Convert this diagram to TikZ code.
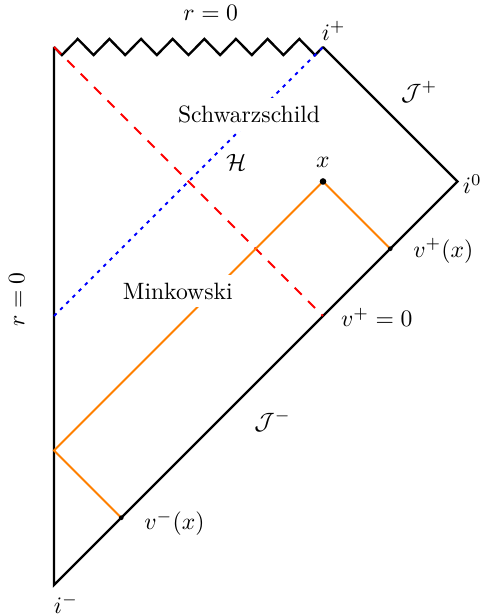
\documentclass[tikz,border=0pt]{standalone}
\usepackage{amsmath}
\usepackage{xcolor}
\usepackage{tikz}
\usetikzlibrary{positioning, calc}

\begin{document}
\begin{tikzpicture}[
    bdry/.style={line width=1pt, black},
    horizonline/.style={thick, blue, dash pattern=on 1.5pt off 2.2pt},
    shellline/.style={thick, red, dash pattern=on 4.2pt off 3.8pt},
    lightray/.style={thick, orange},
    patchlabel/.style={fill=white}
  ]
  \useasboundingbox (-0.803,-0.461) rectangle (6.379,8.699);

  % Corners of the diagram
  \coordinate (iminus) at (0,0);
  \coordinate (rtop) at (0,8);
  \coordinate (iplus) at (4,8);
  \coordinate (izero) at (6,6);
  \coordinate (rmid) at (0,4);
  \coordinate (vzero) at (4,4);
  \coordinate (xpt) at (4,6);
  \coordinate (vpx) at (5,5);
  \coordinate (refl) at (0,2);
  \coordinate (vmx) at (1,1);

  % Boundary
  \draw[bdry] (iplus) -- (izero) -- (iminus) -- (rtop);
  \draw[bdry] (rtop) \foreach \k in {0,...,16} {
      -- ({(\k+0.5)*4/17}, {8+0.12*(2*mod(\k,2)-1)})
    } -- (iplus);

  % Horizon and shell
  \draw[horizonline] (rmid) -- (iplus);
  \draw[shellline] (rtop) -- (vzero);

  % Light rays through x
  \draw[lightray] (vpx) -- (xpt) -- (refl) -- (vmx);
  \fill (xpt) circle (1.4pt);
  \fill (vpx) circle (1pt);
  \fill (vmx) circle (1pt);

  % Labels
  \node (lrtop) at (2.33,8.51) {$r=0$};
  \node[rotate=90] (lrleft) at (-0.555,4.245) {$r=0$};
  \node (liplus) at (4.16,8.24) {$i^+$};
  \node (lizero) at (6.22,5.96) {$i^0$};
  \node (liminus) at (0.178,-0.28) {$i^-$};
  \node (ljplus) at (5.43,7.33) {$\mathcal{J}^+$};
  \node (ljminus) at (3.25,2.44) {$\mathcal{J}^-$};
  \node[patchlabel] (lschw) at (2.90,6.99) {Schwarzschild};
  \node (lhor) at (2.71,6.28) {$\mathcal{H}$};
  \node[patchlabel] (lmink) at (1.84,4.37) {Minkowski};
  \node (lx) at (4,6.28) {$x$};
  \node (lvpx) at (5.79,4.97) {$v^+(x)$};
  \node (lvzero) at (4.80,3.98) {$v^+=0$};
  \node (lvmx) at (1.79,0.92) {$v^-(x)$};
\end{tikzpicture}
\end{document}
